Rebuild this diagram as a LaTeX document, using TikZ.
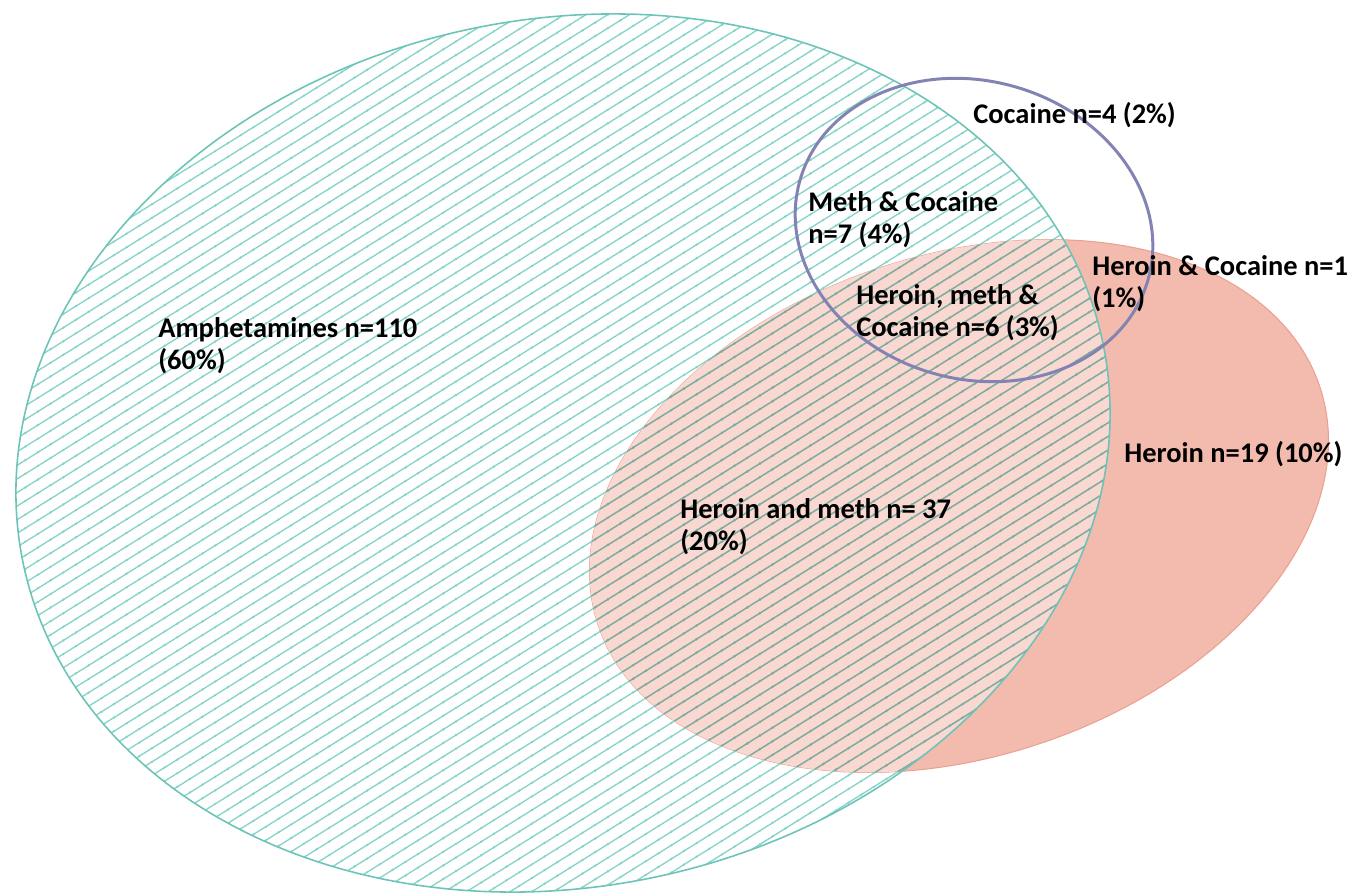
\documentclass[tikz,border=0pt]{standalone}
\usepackage{fontspec}
\setmainfont{Carlito}
\definecolor{heroinfill}{HTML}{F2BBAE}
\definecolor{heroinedge}{HTML}{EBA191}
\definecolor{overlapfill}{HTML}{F8D8D0}
\definecolor{ampedge}{HTML}{6CC4B8}
\definecolor{amphatch}{HTML}{86D3C8}
\definecolor{darkhatch}{HTML}{86A89C}
\definecolor{cocedge}{HTML}{8383B3}
\tikzset{
  hatchline/.style={draw=amphatch, line width=0.75pt},
  hatchbead/.style={draw=amphatch, line width=1.5pt, line cap=round, dash pattern=on 0pt off 8.5pt},
  hatchdark/.style={draw=darkhatch, line width=0.75pt},
  hatchdarkbead/.style={draw=darkhatch, line width=1.5pt, line cap=round, dash pattern=on 0pt off 8.5pt},
  lbl/.style={font=\bfseries\fontsize{16.2}{18}\selectfont, align=left, anchor=base west, inner sep=0pt, text=black}
}
\begin{document}
\begin{tikzpicture}[x=0.02cm,y=-0.02cm]
\useasboundingbox (0,0) rectangle (1358,895);
% Heroin ellipse
\fill[heroinfill, rotate around={18.2:(959,506)}] (959,506) ellipse [x radius=380, y radius=251];
\draw[heroinedge, line width=0.6pt, rotate around={18.2:(959,506)}] (959,506) ellipse [x radius=380, y radius=251];
% Amphetamines hatched region
\begin{scope}
  \clip[rotate around={11.2:(563,453)}] (563,453) ellipse [x radius=551, y radius=434];
  \fill[overlapfill, rotate around={18.2:(959,506)}] (959,506) ellipse [x radius=380, y radius=251];
  \foreach \c in {0,13.6,...,1770} {
    \draw[hatchline] (0,\c) -- (1358,\c-848.6);
    \draw[hatchbead] (0,\c) -- (1358,\c-848.6);
  }
  \clip[rotate around={18.2:(959,506)}] (959,506) ellipse [x radius=380, y radius=251];
  \foreach \c in {0,13.6,...,1770} {
    \draw[hatchdark] (0,\c) -- (1358,\c-848.6);
    \draw[hatchdarkbead] (0,\c) -- (1358,\c-848.6);
  }
\end{scope}
\draw[ampedge, line width=0.9pt, rotate around={11.2:(563,453)}] (563,453) ellipse [x radius=551, y radius=434];
% Cocaine circle
\draw[cocedge, line width=1.7pt, rotate around={-16:(974,230)}] (974,230) ellipse [x radius=181, y radius=149];
% Labels
\node[lbl] (coc) at (973,124) {Cocaine n=4 (2\%)};
\node[lbl] (mc) at (808,243) {Meth \& Cocaine\\n=7 (4\%)};
\node[lbl] (hc) at (1092,307) {Heroin \& Cocaine n=1\\(1\%)};
\node[lbl] (hmc) at (856,336) {Heroin, meth \&\\Cocaine n=6 (3\%)};
\node[lbl] (amp) at (158,369) {Amphetamines n=110\\(60\%)};
\node[lbl] (her) at (1124,462) {Heroin n=19 (10\%)};
\node[lbl] (hm) at (680,550) {Heroin and meth n= 37\\(20\%)};
\end{tikzpicture}
\end{document}
